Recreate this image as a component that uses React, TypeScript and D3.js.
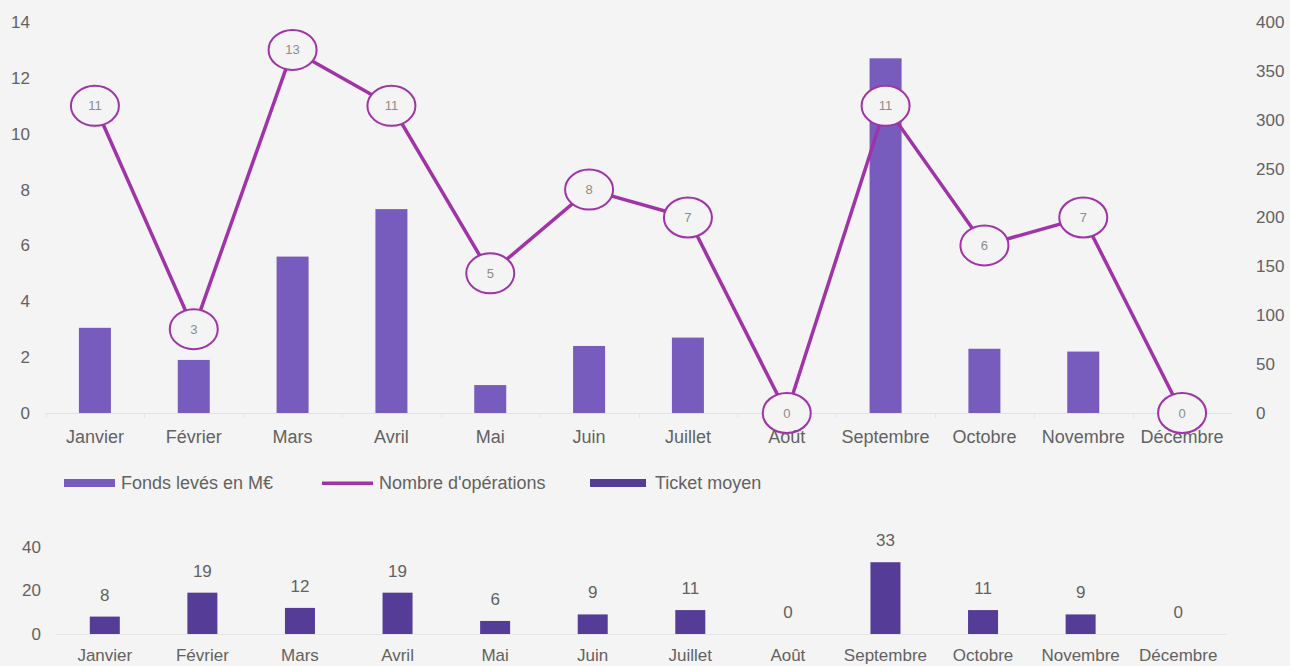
import React from "react";
import * as d3 from "d3";

const months = ["Janvier","Février","Mars","Avril","Mai","Juin","Juillet","Août","Septembre","Octobre","Novembre","Décembre"];
const fonds = [3.05, 1.9, 5.6, 7.3, 1.0, 2.4, 2.7, 0, 12.7, 2.3, 2.2, 0];
const operations = [11, 3, 13, 11, 5, 8, 7, 0, 11, 6, 7, 0];
const ticket = [8, 19, 12, 19, 6, 9, 11, 0, 33, 11, 9, 0];
const leftTicks = [0, 2, 4, 6, 8, 10, 12, 14];
const rightTicks = [0, 50, 100, 150, 200, 250, 300, 350, 400];
const bottomTicks = [0, 20, 40];
const legendItems = ["Fonds levés en M€", "Nombre d'opérations", "Ticket moyen"];

const BG = "#f4f4f4";
const BAR = "#775cbd";
const LINE = "#a033a7";
const DARK = "#553d97";
const TXT = "#626262";
const FONT = "'Liberation Sans', Arial, sans-serif";

export default function App() {
  const W = 1290, H = 666;
  const x = d3.scaleBand<string>().domain(months).range([45.5, 1231.5]);
  const yL = d3.scaleLinear().domain([0, 14]).range([413, 22]);
  const yR = d3.scaleLinear().domain([0, 400]).range([413, 22]);
  const xb = d3.scaleBand<string>().domain(months).range([56, 1227]);
  const yb = d3.scaleLinear().domain([0, 40]).range([634, 547]);
  const cx = (m: string) => (x(m) as number) + x.bandwidth() / 2;
  const cxb = (m: string) => (xb(m) as number) + xb.bandwidth() / 2;
  const line = d3.line<number>().x((_, i) => cx(months[i])).y((d) => yL(d));
  const barW = 32;
  const barWb = 30;
  return (
    <svg width={W} height={H} style={{ position: "absolute", left: 0, top: 0, background: BG }} fontFamily={FONT}>
      <rect x={0} y={0} width={W} height={H} fill={BG} />
      {leftTicks.map((t) => (
        <text key={"l" + t} x={30} y={yL(t)} dy="0.35em" textAnchor="end" fontSize={17} fill={TXT}>{t}</text>
      ))}
      {rightTicks.map((t) => (
        <text key={"r" + t} x={1256} y={yR(t)} dy="0.35em" textAnchor="start" fontSize={17} fill={TXT}>{t}</text>
      ))}
      <line x1={45.5} x2={1231.5} y1={413.5} y2={413.5} stroke="#e2e2e2" strokeWidth={1} />
      {months.map((m, i) => (
        <line key={"tk" + i} x1={Math.round(x(m) as number) + 0.5} x2={Math.round(x(m) as number) + 0.5} y1={413} y2={418} stroke="#e6e6e6" />
      ))}
      {months.map((m, i) => (
        <rect key={"b" + i} x={cx(m) - barW / 2} y={yL(fonds[i])} width={barW} height={yL(0) - yL(fonds[i])} fill={BAR} />
      ))}
      <path d={line(operations) || ""} fill="none" stroke={LINE} strokeWidth={3.5} />
      {months.map((m, i) => (
        <g key={"c" + i}>
          <ellipse cx={cx(m)} cy={yL(operations[i])} rx={24} ry={20} fill={BG} stroke={LINE} strokeWidth={2} />
          <text x={cx(m)} y={yL(operations[i])} dy="0.35em" textAnchor="middle" fontSize={13} fill="#8c8c8c">{operations[i]}</text>
        </g>
      ))}
      {months.map((m, i) => (
        <text key={"xl" + i} x={cx(m)} y={437} dy="0.35em" textAnchor="middle" fontSize={18} fill={TXT}>{m}</text>
      ))}
      <rect x={64} y={479} width={51} height={8} fill={BAR} />
      <text x={121} y={483} dy="0.35em" fontSize={18} fill={TXT}>{legendItems[0]}</text>
      <rect x={322} y={481.5} width={51} height={3.5} fill={LINE} />
      <text x={379} y={483} dy="0.35em" fontSize={18} fill={TXT}>{legendItems[1]}</text>
      <rect x={590} y={479} width={56} height={8} fill={DARK} />
      <text x={655} y={483} dy="0.35em" fontSize={18} fill={TXT}>{legendItems[2]}</text>
      {bottomTicks.map((t) => (
        <text key={"bt" + t} x={41} y={yb(t)} dy="0.35em" textAnchor="end" fontSize={17} fill={TXT}>{t}</text>
      ))}
      <line x1={56} x2={1227} y1={634.5} y2={634.5} stroke="#e6e6e6" strokeWidth={1} />
      {months.map((m, i) => (
        <g key={"bb" + i}>
          <rect x={cxb(m) - barWb / 2} y={yb(ticket[i])} width={barWb} height={yb(0) - yb(ticket[i])} fill={DARK} />
          <text x={cxb(m)} y={yb(ticket[i]) - 22} dy="0.35em" textAnchor="middle" fontSize={17} fill={TXT}>{ticket[i]}</text>
        </g>
      ))}
      {months.map((m, i) => (
        <text key={"bxl" + i} x={cxb(m)} y={655} dy="0.35em" textAnchor="middle" fontSize={17} fill={TXT}>{m}</text>
      ))}
    </svg>
  );
}
